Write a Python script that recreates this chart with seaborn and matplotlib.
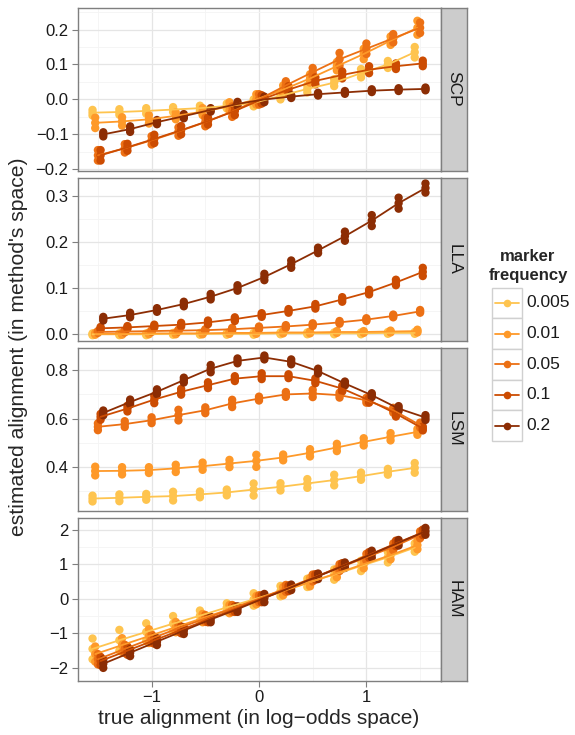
import numpy as np
import pandas as pd
import matplotlib
matplotlib.use("Agg")
import matplotlib.pyplot as plt
from matplotlib.patches import Rectangle
from matplotlib.lines import Line2D
import seaborn as sns

# true alignment positions (log-odds)
x_true = [-1.5, -1.25, -1.0, -0.75, -0.5, -0.25, 0.0, 0.25, 0.5, 0.75, 1.0, 1.25, 1.5]
freq_labels = ["0.005", "0.01", "0.05", "0.1", "0.2"]
methods = ["SCP", "LLA", "LSM", "HAM"]

# estimated alignment, mean per point
scp_mean = {
    "0.005": [-0.038, -0.036, -0.033, -0.029, -0.025, -0.019, -0.01, 0.01, 0.03, 0.048, 0.075, 0.1, 0.135],
    "0.01": [-0.067, -0.063, -0.057, -0.047, -0.035, -0.02, 0.0, 0.028, 0.06, 0.095, 0.13, 0.168, 0.205],
    "0.05": [-0.16, -0.14, -0.117, -0.092, -0.065, -0.035, 0.0, 0.04, 0.078, 0.115, 0.145, 0.175, 0.205],
    "0.1": [-0.16, -0.137, -0.113, -0.088, -0.062, -0.033, 0.0, 0.028, 0.053, 0.07, 0.085, 0.095, 0.103],
    "0.2": [-0.1, -0.085, -0.065, -0.048, -0.03, -0.013, 0.0, 0.008, 0.015, 0.02, 0.025, 0.028, 0.03],
}
scp_spread = {
    "0.005": [0.008, 0.008, 0.008, 0.007, 0.007, 0.007, 0.01, 0.01, 0.01, 0.01, 0.012, 0.01, 0.015],
    "0.01": [0.015, 0.012, 0.012, 0.01, 0.01, 0.012, 0.015, 0.012, 0.012, 0.012, 0.015, 0.012, 0.02],
    "0.05": [0.015, 0.012, 0.012, 0.012, 0.012, 0.015, 0.015, 0.012, 0.012, 0.018, 0.015, 0.012, 0.015],
    "0.1": [0.015, 0.01, 0.012, 0.012, 0.01, 0.012, 0.012, 0.01, 0.01, 0.01, 0.01, 0.008, 0.008],
    "0.2": [0.006, 0.008, 0.006, 0.006, 0.005, 0.006, 0.008, 0.004, 0.004, 0.004, 0.004, 0.004, 0.004],
}
lla_mean = {
    "0.005": [-0.001, -0.001, -0.001, 0.0, 0.0, 0.0, 0.0, 0.001, 0.001, 0.001, 0.001, 0.002, 0.002],
    "0.01": [0.0, 0.0, 0.001, 0.001, 0.001, 0.002, 0.002, 0.003, 0.003, 0.004, 0.004, 0.005, 0.006],
    "0.05": [0.004, 0.005, 0.006, 0.007, 0.008, 0.01, 0.013, 0.016, 0.02, 0.025, 0.031, 0.039, 0.049],
    "0.1": [0.012, 0.014, 0.017, 0.02, 0.025, 0.032, 0.041, 0.05, 0.06, 0.075, 0.091, 0.112, 0.135],
    "0.2": [0.033, 0.041, 0.052, 0.065, 0.081, 0.1, 0.124, 0.152, 0.182, 0.213, 0.247, 0.285, 0.318],
}
lla_spread = {
    "0.005": [0.002, 0.002, 0.002, 0.002, 0.002, 0.002, 0.002, 0.002, 0.002, 0.002, 0.002, 0.002, 0.002],
    "0.01": [0.002, 0.002, 0.002, 0.002, 0.002, 0.002, 0.002, 0.002, 0.002, 0.002, 0.002, 0.002, 0.003],
    "0.05": [0.002, 0.002, 0.002, 0.002, 0.002, 0.003, 0.003, 0.003, 0.003, 0.003, 0.003, 0.003, 0.003],
    "0.1": [0.003, 0.003, 0.003, 0.004, 0.004, 0.004, 0.004, 0.004, 0.005, 0.005, 0.005, 0.006, 0.009],
    "0.2": [0.004, 0.005, 0.004, 0.005, 0.006, 0.006, 0.007, 0.008, 0.006, 0.01, 0.012, 0.012, 0.01],
}
lsm_mean = {
    "0.005": [0.271, 0.274, 0.278, 0.281, 0.288, 0.296, 0.308, 0.319, 0.333, 0.347, 0.363, 0.381, 0.397],
    "0.01": [0.384, 0.385, 0.388, 0.395, 0.404, 0.415, 0.426, 0.44, 0.459, 0.481, 0.504, 0.525, 0.545],
    "0.05": [0.566, 0.577, 0.593, 0.614, 0.634, 0.662, 0.682, 0.699, 0.703, 0.696, 0.675, 0.634, 0.573],
    "0.1": [0.607, 0.641, 0.678, 0.71, 0.737, 0.764, 0.774, 0.774, 0.755, 0.723, 0.675, 0.62, 0.559],
    "0.2": [0.623, 0.668, 0.71, 0.758, 0.805, 0.837, 0.851, 0.833, 0.795, 0.744, 0.696, 0.641, 0.604],
}
lsm_spread = {
    "0.005": [0.012, 0.014, 0.012, 0.018, 0.012, 0.012, 0.025, 0.015, 0.018, 0.022, 0.015, 0.012, 0.02],
    "0.01": [0.018, 0.015, 0.012, 0.015, 0.015, 0.015, 0.025, 0.012, 0.015, 0.015, 0.015, 0.015, 0.012],
    "0.05": [0.014, 0.012, 0.012, 0.022, 0.012, 0.015, 0.008, 0.01, 0.015, 0.01, 0.01, 0.01, 0.01],
    "0.1": [0.012, 0.012, 0.015, 0.012, 0.012, 0.01, 0.012, 0.008, 0.01, 0.012, 0.01, 0.012, 0.008],
    "0.2": [0.01, 0.01, 0.01, 0.01, 0.015, 0.01, 0.008, 0.01, 0.01, 0.008, 0.008, 0.01, 0.01],
}
ham_mean = {
    "0.005": [-1.45, -1.2, -0.96, -0.72, -0.49, -0.25, -0.02, 0.22, 0.46, 0.7, 0.95, 1.2, 1.48],
    "0.01": [-1.6, -1.34, -1.08, -0.82, -0.56, -0.3, -0.04, 0.22, 0.48, 0.74, 1.0, 1.26, 1.55],
    "0.05": [-1.75, -1.45, -1.15, -0.85, -0.57, -0.28, 0.0, 0.3, 0.6, 0.9, 1.2, 1.5, 1.85],
    "0.1": [-1.8, -1.5, -1.2, -0.9, -0.6, -0.3, 0.0, 0.3, 0.63, 0.95, 1.27, 1.6, 1.92],
    "0.2": [-1.88, -1.56, -1.24, -0.92, -0.6, -0.3, 0.02, 0.33, 0.65, 0.97, 1.29, 1.62, 1.95],
}
ham_spread = {
    "0.005": [0.3, 0.3, 0.25, 0.22, 0.15, 0.12, 0.18, 0.15, 0.12, 0.15, 0.15, 0.15, 0.12],
    "0.01": [0.22, 0.2, 0.2, 0.15, 0.12, 0.12, 0.12, 0.12, 0.12, 0.12, 0.12, 0.12, 0.12],
    "0.05": [0.15, 0.12, 0.12, 0.1, 0.1, 0.1, 0.1, 0.1, 0.1, 0.1, 0.1, 0.1, 0.1],
    "0.1": [0.12, 0.12, 0.1, 0.1, 0.08, 0.08, 0.1, 0.08, 0.08, 0.08, 0.08, 0.08, 0.08],
    "0.2": [0.12, 0.1, 0.1, 0.1, 0.08, 0.08, 0.12, 0.08, 0.08, 0.08, 0.1, 0.08, 0.1],
}

means = {"SCP": scp_mean, "LLA": lla_mean, "LSM": lsm_mean, "HAM": ham_mean}
spreads = {"SCP": scp_spread, "LLA": lla_spread, "LSM": lsm_spread, "HAM": ham_spread}

colors = ["#FEC44F", "#FE9929", "#EC7014", "#CC4C02", "#8C2D04"]
palette = dict(zip(freq_labels, colors))
dodge = dict(zip(freq_labels, [-0.05, -0.025, 0.0, 0.025, 0.05]))

line_rows, pt_rows = [], []
for m in methods:
    for f in freq_labels:
        for i, xv in enumerate(x_true):
            mu = means[m][f][i]
            sp = spreads[m][f][i]
            xd = xv + dodge[f]
            line_rows.append((m, f, xd, mu))
            for yv in (mu - sp, mu, mu + sp):
                pt_rows.append((m, f, xd, yv))
lines = pd.DataFrame(line_rows, columns=["method", "freq", "x", "y"])
points = pd.DataFrame(pt_rows, columns=["method", "freq", "x", "y"])

sns.set_theme(style="white")
plt.rcParams["font.family"] = ["Liberation Sans", "DejaVu Sans"]

W, H = 575, 735
fig = plt.figure(figsize=(W / 100, H / 100), dpi=100)


def fx(px):
    return px / W


def fy(py):
    return 1 - py / H


panel_left, panel_right = 77.5, 440.5
strip_right = 467
tops = [7.5, 177.5, 347.5, 517.5]
ph = 163.2

ylims = {"SCP": (-0.204, 0.263), "LLA": (-0.015, 0.341), "LSM": (0.221, 0.892), "HAM": (-2.37, 2.35)}
yticks = {"SCP": [-0.2, -0.1, 0.0, 0.1, 0.2], "LLA": [0.0, 0.1, 0.2, 0.3],
          "LSM": [0.4, 0.6, 0.8], "HAM": [-2, -1, 0, 1, 2]}
yminor = {"SCP": [-0.15, -0.05, 0.05, 0.15, 0.25], "LLA": [0.05, 0.15, 0.25],
          "LSM": [0.3, 0.5, 0.7], "HAM": [-1.5, -0.5, 0.5, 1.5]}
ylabfmt = {"SCP": "{:.1f}", "LLA": "{:.1f}", "LSM": "{:.1f}", "HAM": "{:.0f}"}

border = "#7F7F7F"
for k, m in enumerate(methods):
    top = tops[k]
    ax = fig.add_axes([fx(panel_left), fy(top + ph), fx(panel_right - panel_left), ph / H])
    sub_p = points[points.method == m]
    sub_l = lines[lines.method == m]
    sns.scatterplot(data=sub_p, x="x", y="y", hue="freq", hue_order=freq_labels, palette=palette,
                    s=36, linewidth=0, legend=False, ax=ax, zorder=2)
    sns.lineplot(data=sub_l, x="x", y="y", hue="freq", hue_order=freq_labels, palette=palette,
                 estimator=None, linewidth=1.3, legend=False, ax=ax, zorder=3)
    ax.set_xlim(-1.69, 1.69)
    ax.set_ylim(*ylims[m])
    ax.set_xticks([-1, 0, 1])
    ax.set_xticks([-1.5, -0.5, 0.5, 1.5], minor=True)
    ax.set_yticks(yticks[m])
    ax.set_yticks(yminor[m], minor=True)
    ax.set_yticklabels([ylabfmt[m].format(v).replace("-", "\u2212") for v in yticks[m]])
    ax.grid(True, which="major", color="#E5E5E5", linewidth=0.9, zorder=0)
    ax.grid(True, which="minor", color="#F4F4F4", linewidth=0.6, zorder=0)
    ax.set_axisbelow(True)
    for s in ax.spines.values():
        s.set_color(border)
        s.set_linewidth(1.0)
    ax.tick_params(which="major", direction="out", length=4, width=0.8, color=border,
                   labelsize=12, labelcolor="#1a1a1a", pad=2.5, left=True, bottom=(k == 3))
    ax.tick_params(which="minor", length=0)
    if k < 3:
        ax.set_xticklabels([])
    else:
        ax.set_xticklabels(["\u22121", "0", "1"])
    ax.set_xlabel("")
    ax.set_ylabel("")

    # facet strip on the right
    sax = fig.add_axes([fx(panel_right + 0.5), fy(top + ph), fx(strip_right - panel_right - 0.5), ph / H])
    sax.set_facecolor("#CCCCCC")
    sax.set_xticks([])
    sax.set_yticks([])
    for s in sax.spines.values():
        s.set_color(border)
        s.set_linewidth(1.0)
    sax.text(0.5, 0.5, m, rotation=-90, ha="center", va="center", fontsize=12.5,
             color="#1a1a1a", transform=sax.transAxes)

fig.text(fx(259), fy(719), "true alignment (in log\u2212odds space)", ha="center", va="center", fontsize=15)
fig.text(fx(18.5), fy(347), "estimated alignment (in method's space)", ha="center", va="center",
         rotation=90, fontsize=15.2)

# legend
lax = fig.add_axes([0, 0, 1, 1], zorder=5)
lax.set_xlim(0, W)
lax.set_ylim(H, 0)
lax.axis("off")
lax.text(528, 256, "marker", ha="center", va="center", fontsize=12, fontweight="bold")
lax.text(528, 275, "frequency", ha="center", va="center", fontsize=12, fontweight="bold")
key_top, key_h = 287.5, 30.7
for i, f in enumerate(freq_labels):
    y0 = key_top + i * key_h
    lax.add_patch(Rectangle((491.5, y0), 30.5, key_h, facecolor="white", edgecolor="#D0D0D0", linewidth=1.0))
    yc = y0 + key_h / 2
    lax.add_line(Line2D([495, 518.5], [yc, yc], color=palette[f], linewidth=1.3))
    lax.plot([506.75], [yc], marker="o", markersize=5.5, color=palette[f], markeredgewidth=0)
    lax.text(526, yc, f, ha="left", va="center", fontsize=12.5, color="#1a1a1a")

fig.savefig("out.png", dpi=100)
